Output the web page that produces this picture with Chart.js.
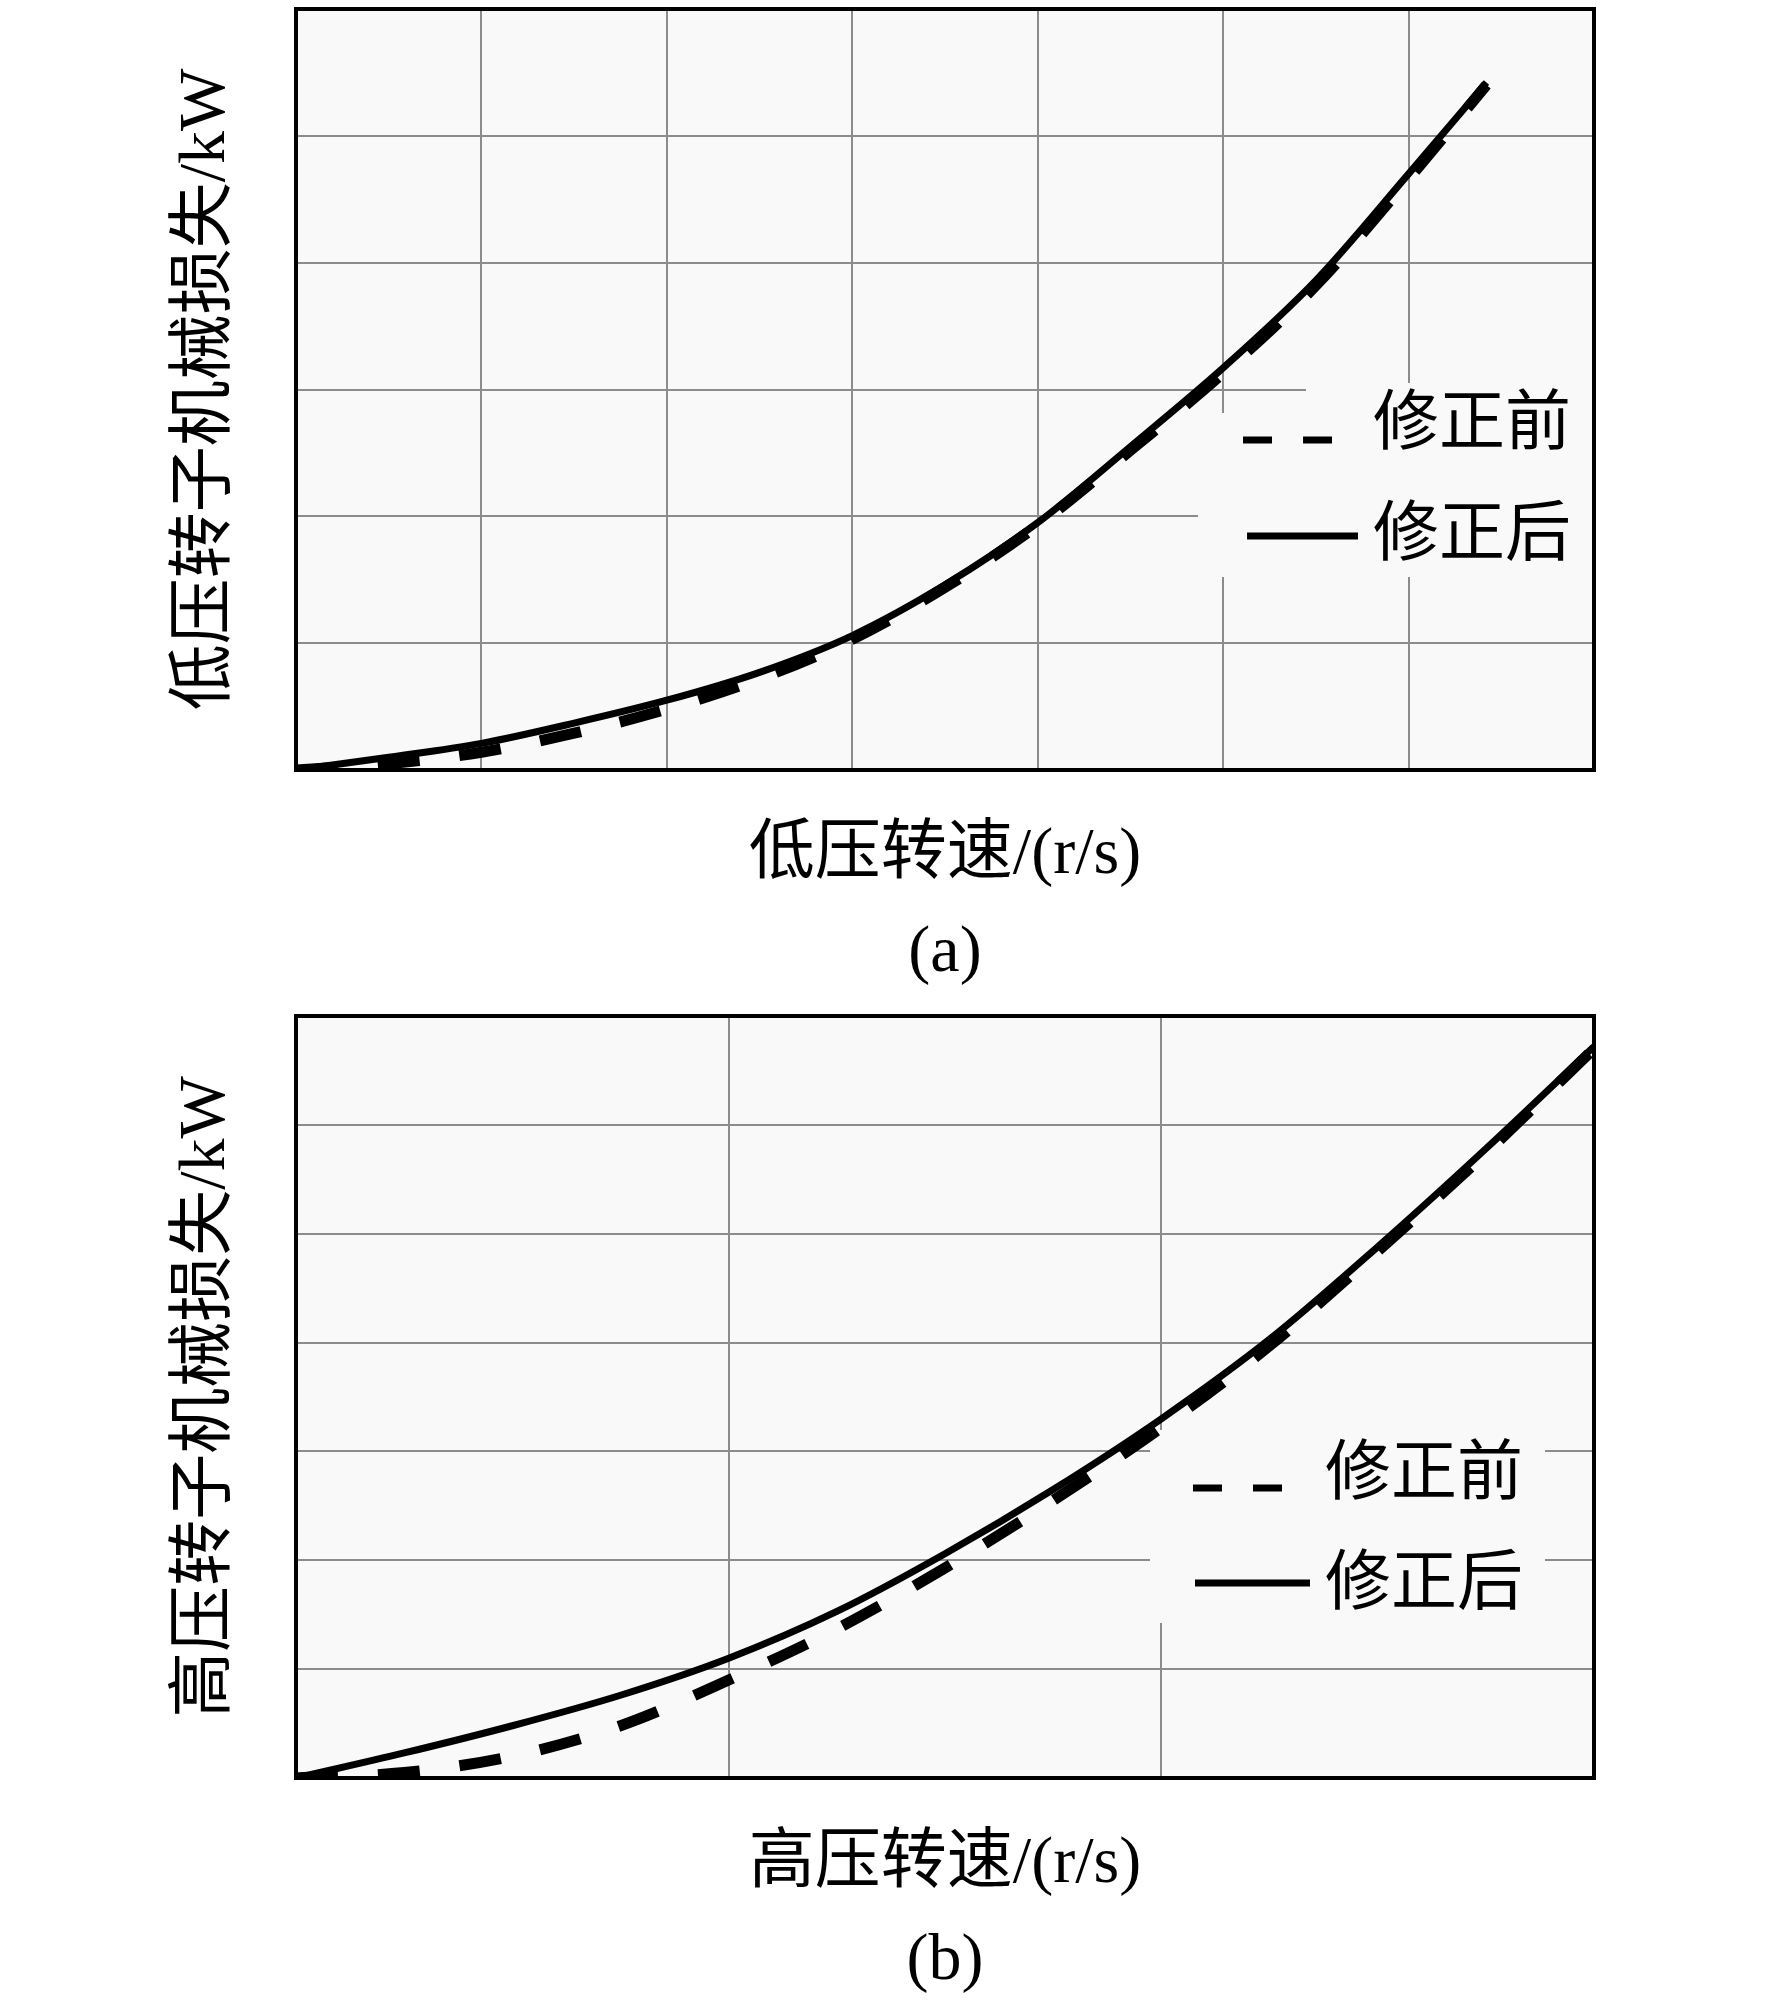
<!DOCTYPE html>
<html>
<head>
<meta charset="utf-8">
<script src="https://cdn.jsdelivr.net/npm/chart.js@4.4.1/dist/chart.umd.min.js"></script>
<style>
    html, body { margin: 0; padding: 0; background: #ffffff; }
    #page { position: relative; width: 1772px; height: 2008px; }
    .panel { position: absolute; left: 0; width: 1772px; height: 1004px; }
</style>
</head>
<body>
<div id="page">
    <div class="panel" style="top:0"><canvas id="lowChart"></canvas></div>
    <div class="panel" style="top:1004px"><canvas id="highChart"></canvas></div>
</div>
<script>
// (a) 低压转子: 转速 (网格单位) 与机械损失
const lpSpeed  = [0, 0.5, 1, 1.5, 2, 2.5, 3, 3.5, 4, 4.5, 5, 5.5, 6, 6.42];
const lpAfter  = [0, 0.10, 0.21, 0.37, 0.55, 0.77, 1.06, 1.46, 1.95, 2.55, 3.17, 3.86, 4.70, 5.42];
const lpBefore = [0, 0.05, 0.14, 0.29, 0.48, 0.72, 1.03, 1.44, 1.93, 2.52, 3.13, 3.82, 4.66, 5.40];

// (b) 高压转子
const hpSpeed  = [0, 0.25, 0.5, 0.75, 1, 1.25, 1.5, 1.75, 2, 2.25, 2.5, 2.75, 3];
const hpAfter  = [0, 0.23, 0.48, 0.76, 1.10, 1.53, 2.06, 2.65, 3.30, 4.03, 4.88, 5.78, 6.72];
const hpBefore = [0, 0.05, 0.20, 0.48, 0.90, 1.37, 1.93, 2.55, 3.22, 3.97, 4.84, 5.74, 6.70];

// 坐标范围 (无刻度数字, 只有网格)
const lpXMax = 7, lpYMax = 6;
const hpXMax = 3, hpYMax = 7;

const seriesNames = ['修正前', '修正后'];

const FONT = '"Liberation Serif", "Noto Sans CJK SC", serif';
const GRID = '#8c8c8c';
const PLOT_BG = '#f9f9f9';
const TEXT_FONT = { family: FONT, size: 66, weight: 'normal', lineHeight: '76.8px' };

function pairs(xs, ys) {
    return xs.map((x, i) => ({ x: x, y: ys[i] }));
}

// 背景, 图例遮挡框, 外框和图例
const framePlugin = {
    id: 'frame',
    beforeDraw(chart) {
        const { ctx, chartArea: a } = chart;
        ctx.save();
        ctx.fillStyle = PLOT_BG;
        ctx.fillRect(a.left, a.top, a.right - a.left, a.bottom - a.top);
        ctx.restore();
    },
    beforeDatasetsDraw(chart, args, opts) {
        const ctx = chart.ctx;
        ctx.save();
        ctx.fillStyle = PLOT_BG;
        opts.boxes.forEach(b => ctx.fillRect(b[0], b[1], b[2], b[3]));
        ctx.restore();
    },
    afterDraw(chart, args, opts) {
        const { ctx, chartArea: a } = chart;
        ctx.save();
        ctx.strokeStyle = '#000';
        ctx.lineWidth = 4;
        ctx.strokeRect(a.left, a.top, a.right - a.left, a.bottom - a.top);

        const lg = opts.legend;
        ctx.lineWidth = 7;
        ctx.setLineDash([29, 31]);
        ctx.beginPath();
        ctx.moveTo(lg.dash[0], lg.dash[2]);
        ctx.lineTo(lg.dash[1], lg.dash[2]);
        ctx.stroke();
        ctx.setLineDash([]);
        ctx.beginPath();
        ctx.moveTo(lg.solid[0], lg.solid[2]);
        ctx.lineTo(lg.solid[1], lg.solid[2]);
        ctx.stroke();

        ctx.fillStyle = '#000';
        ctx.font = '66px ' + FONT;
        ctx.textBaseline = 'middle';
        ctx.textAlign = 'left';
        ctx.fillText(seriesNames[0], lg.text0[0], lg.text0[1]);
        ctx.fillText(seriesNames[1], lg.text1[0], lg.text1[1]);
        ctx.restore();
    }
};

function drawPanel(cfg) {
    const ctx = document.getElementById(cfg.canvasId).getContext('2d');
    new Chart(ctx, {
        type: 'line',
        data: {
            datasets: [{
                label: seriesNames[1],
                data: pairs(cfg.speed, cfg.after),
                borderColor: '#000',
                borderWidth: 7,
                pointRadius: 0,
                cubicInterpolationMode: 'monotone'
            }, {
                label: seriesNames[0],
                data: pairs(cfg.speed, cfg.before),
                borderColor: '#000',
                borderWidth: 11,
                borderDash: [42, 40],
                pointRadius: 0,
                cubicInterpolationMode: 'monotone'
            }]
        },
        options: {
            responsive: true,
            maintainAspectRatio: false,
            animation: false,
            devicePixelRatio: 1,
            layout: {
                padding: { left: 168.6, right: 178, top: cfg.padTop, bottom: 0 }
            },
            scales: {
                x: {
                    type: 'linear',
                    min: 0,
                    max: cfg.xMax,
                    ticks: { display: false, stepSize: 1 },
                    grid: { color: GRID, lineWidth: 2, drawTicks: false },
                    border: { display: false },
                    title: {
                        display: true,
                        text: cfg.xTitle,
                        color: '#000',
                        padding: 0,
                        font: TEXT_FONT
                    },
                    afterFit(scale) { scale.height = cfg.xHeight; }
                },
                y: {
                    type: 'linear',
                    min: 0,
                    max: cfg.yMax,
                    ticks: { display: false, stepSize: 1 },
                    grid: { color: GRID, lineWidth: 2, drawTicks: false },
                    border: { display: false },
                    title: {
                        display: true,
                        text: cfg.yTitle,
                        color: '#000',
                        padding: 0,
                        font: TEXT_FONT
                    },
                    afterFit(scale) { scale.width = 127.4; }
                }
            },
            plugins: {
                legend: { display: false },
                tooltip: { enabled: false },
                title: {
                    display: true,
                    position: 'bottom',
                    fullSize: false,
                    text: cfg.caption,
                    color: '#000',
                    font: TEXT_FONT,
                    padding: { top: cfg.capTop, bottom: cfg.capBottom }
                },
                frame: {
                    boxes: cfg.boxes,
                    legend: cfg.legend
                }
            }
        },
        plugins: [framePlugin]
    });
}

drawPanel({
    canvasId: 'lowChart',
    speed: lpSpeed,
    after: lpAfter,
    before: lpBefore,
    xMax: lpXMax,
    yMax: lpYMax,
    xTitle: '低压转速/(r/s)',
    yTitle: '低压转子机械损失/kW',
    caption: '(a)',
    padTop: 9,
    xHeight: 124.4,
    capTop: 21.2,
    capBottom: 11.6,
    boxes: [[1306, 383, 288, 194], [1198, 413, 396, 164]],
    legend: { dash: [1243, 1333, 440], solid: [1247, 1358, 536], text0: [1373, 427], text1: [1373, 538] }
});

drawPanel({
    canvasId: 'highChart',
    speed: hpSpeed,
    after: hpAfter,
    before: hpBefore,
    xMax: hpXMax,
    yMax: hpYMax,
    xTitle: '高压转速/(r/s)',
    yTitle: '高压转子机械损失/kW',
    caption: '(b)',
    padTop: 12,
    xHeight: 125.4,
    capTop: 20.2,
    capBottom: 7.6,
    boxes: [[1150, 426, 395, 193]],
    legend: { dash: [1193, 1285, 484], solid: [1195, 1310, 579], text0: [1325, 473], text1: [1325, 583] }
});
</script>
</body>
</html>
